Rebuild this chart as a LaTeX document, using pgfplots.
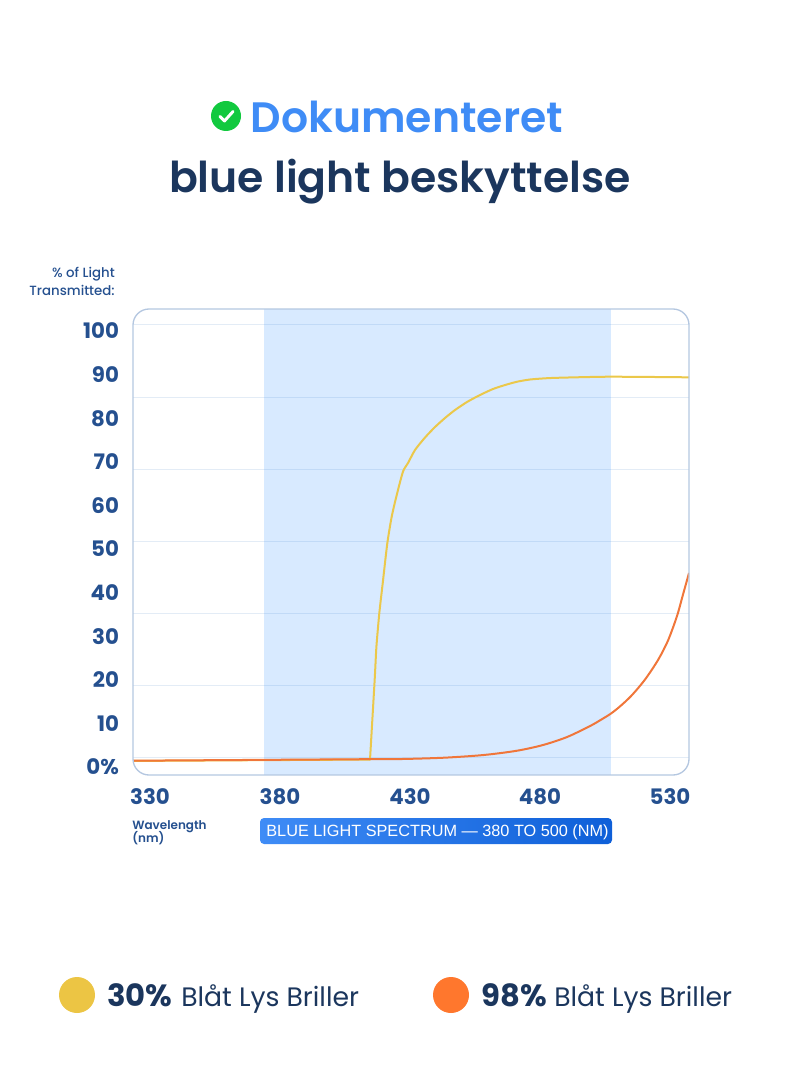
\documentclass[border=0pt]{standalone}
\usepackage{fontspec}
\setmainfont{Poppins}[BoldFont=Poppins SemiBold]
\newfontfamily\heavyfont{Poppins}[UprightFont=* Bold]
\newfontfamily\medfont{Poppins Medium}
\newfontfamily\pillfont{Liberation Sans}
\usepackage{pgfplots}
\pgfplotsset{compat=1.18}

\definecolor{navy}{HTML}{1B365D}
\definecolor{ticktxt}{HTML}{25508F}
\definecolor{titleblue}{HTML}{3F8CF6}
\definecolor{bandblue}{HTML}{3A94FF}
\definecolor{framecol}{HTML}{B4C7E0}
\definecolor{gridcol}{HTML}{E3ECF6}
\definecolor{yellowline}{HTML}{EBC84A}
\definecolor{orangeline}{HTML}{F0763A}
\definecolor{yellowdot}{HTML}{ECC544}
\definecolor{orangedot}{HTML}{FF772D}
\definecolor{okgreen}{HTML}{12C93F}
\definecolor{pillleft}{HTML}{3F8CF6}
\definecolor{pillright}{HTML}{0E5FD8}

\begin{document}
\begin{tikzpicture}
% page size, 800x1080 px at 0.75pt per px
\path (0pt,0pt) rectangle (600pt,-810pt);

\begin{axis}[
    at={(99.75pt,-581.25pt)}, anchor=south west,
    scale only axis, width=417pt, height=349.5pt,
    xmin=323.46, xmax=537.31,
    ymin=-1.83, ymax=105.05,
    axis line style={draw=none},
    tick style={draw=none},
    xtick={330,380,430,480,530},
    xticklabels={330,380,430,480,530},
    ytick={0,10,...,100},
    yticklabels={0\%,10,20,30,40,50,60,70,80,90,100},
    minor ytick={2.29,18.8,35.3,51.8,68.3,84.8,101.4},
    yminorgrids=true,
    minor grid style={gridcol, line width=0.75pt},
    x tick label style={font=\fontsize{16}{16}\selectfont\heavyfont, text=ticktxt, yshift=-7pt},
    y tick label style={font=\fontsize{16}{16}\selectfont\heavyfont, text=ticktxt, xshift=-7pt},
    clip=true,
]
% blue light band
\addplot[draw=none, fill=bandblue, fill opacity=0.2] coordinates {
    (373.85,-1.83) (373.85,105.05) (507.31,105.05) (507.31,-1.83)
} -- cycle;

% 30% glasses, flat part then the rise
\addplot[yellowline, line width=1.5pt, line cap=round] coordinates {
    (323.46,1.40) (414.62,1.72)
};
\addplot[yellowline, line width=1.5pt, smooth, tension=0.4, line cap=round] coordinates {
    (414.62,1.72) (416.42,20.11) (417.08,27.60)
    (418.19,35.25) (419.50,42.13) (421.27,51.31) (422.96,57.41) (424.89,62.39)
    (427.31,67.77) (429.23,69.72) (431.92,72.71) (435.77,75.57) (439.62,77.98)
    (443.46,80.05) (447.31,81.88) (451.92,83.72) (456.92,85.32) (461.92,86.70)
    (466.54,87.61) (471.15,88.37) (476.15,88.88) (481.92,89.15) (487.69,89.29)
    (506.93,89.52) (537.31,89.38)
};

% 98% glasses
\addplot[orangeline, line width=1.5pt, smooth, tension=0.5] coordinates {
    (323.46,1.45) (414.62,1.80) (426.15,1.83) (442.81,2.13) (458.20,2.75)
    (471.15,3.74) (481.15,5.05) (490.39,6.88) (499.23,9.40) (503.08,10.71)
    (507.31,12.27) (511.16,14.11) (515.39,16.51) (520.39,20.07) (525.39,24.54)
    (529.23,29.01) (532.69,34.63) (535.00,39.56) (537.31,44.50)
};
\end{axis}

\begin{scope}[x=0.75pt,y=-0.75pt]
% frame
\draw[framecol, line width=1pt, rounded corners=12pt] (133,309) rectangle (689,775);

% title
\fill[okgreen] (226,116) circle (15);
\draw[white, line width=2.2pt, line cap=round, line join=round] (220,116.5) -- (224.5,121) -- (233,111.5);
\node[anchor=base west, inner sep=0pt, text=titleblue] at (250.5,133)
    {\bfseries\fontsize{31.9}{32}\selectfont Dokumenteret};
\node[anchor=base, inner sep=0pt, text=navy] at (400,193)
    {\bfseries\fontsize{31.9}{32}\selectfont blue light beskyttelse};

% axis captions
\node[anchor=base east, inner sep=0pt, text=ticktxt] at (115,278)
    {\medfont\fontsize{10}{10}\selectfont \% of Light};
\node[anchor=base east, inner sep=0pt, text=ticktxt] at (115,296)
    {\medfont\fontsize{10}{10}\selectfont Transmitted:};
\node[anchor=base west, inner sep=0pt, text=ticktxt] at (132,829)
    {\bfseries\fontsize{9}{9}\selectfont Wavelength};
\node[anchor=base west, inner sep=0pt, text=ticktxt] at (132,842)
    {\bfseries\fontsize{9}{9}\selectfont (nm)};

% spectrum pill
\shade[left color=pillleft, right color=pillright, rounded corners=3pt] (260,818) rectangle (612,844);
\node[anchor=base, inner sep=0pt, text=white] at (437.5,836)
    {\pillfont\fontsize{12.2}{12.2}\selectfont BLUE LIGHT SPECTRUM — 380 TO 500 (NM)};

% legend
\fill[yellowdot] (77,995) circle (18);
\node[anchor=base west, inner sep=0pt, text=navy] at (107,1006)
    {\heavyfont\fontsize{23}{23}\selectfont 30\%};
\node[anchor=base west, inner sep=0pt, text=navy] at (181,1006)
    {\fontsize{20}{20}\selectfont Blåt Lys Briller};
\fill[orangedot] (451,995) circle (18);
\node[anchor=base west, inner sep=0pt, text=navy] at (481,1006)
    {\heavyfont\fontsize{23}{23}\selectfont 98\%};
\node[anchor=base west, inner sep=0pt, text=navy] at (554,1006)
    {\fontsize{20}{20}\selectfont Blåt Lys Briller};
\end{scope}
\end{tikzpicture}
\end{document}
